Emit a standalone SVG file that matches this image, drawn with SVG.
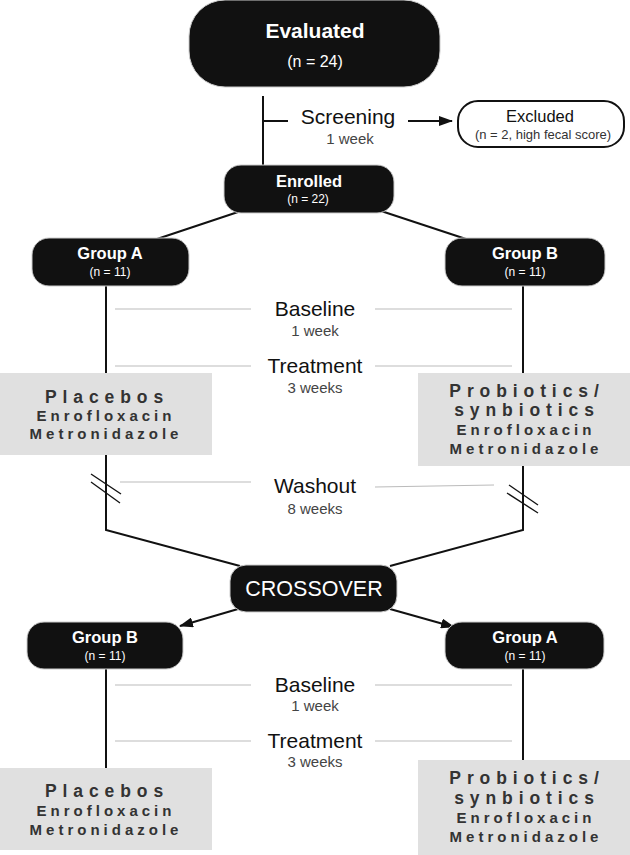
<svg xmlns="http://www.w3.org/2000/svg" width="630" height="855" viewBox="0 0 630 855">
<style>
.dark{fill:#111;stroke:#ccc;stroke-width:1}
.t{font-family:"Liberation Sans",Arial,sans-serif;text-anchor:middle}
.wb{fill:#fff;font-weight:bold}
.w{fill:#fff}
.ln{stroke:#111;stroke-width:2;fill:none}
.gl{stroke:#bbb;stroke-width:1;fill:none}
.gray{fill:#e0e0e0}
.drug{fill:#333;font-weight:bold}
.big{font-size:17.5px;letter-spacing:5.9px}
.sm{font-size:15px;letter-spacing:4px}
.lab{fill:#111;font-size:21px}
.sub{fill:#444;font-size:15px}
.gn{font-size:16.5px}
.nn{font-size:12px}
</style>
<defs>
<marker id="ah" markerWidth="14" markerHeight="10" refX="13" refY="5" orient="auto" markerUnits="userSpaceOnUse">
<path d="M0,0 L14,5 L0,10 Z" fill="#111"/>
</marker>
</defs>
<g id="connectors">
<line class="ln" x1="263" y1="96" x2="263" y2="166"/>
<line class="ln" x1="263" y1="121" x2="288" y2="121"/>
<line class="ln" x1="408" y1="121" x2="452" y2="121" marker-end="url(#ah)"/>
<line class="ln" x1="250" y1="208" x2="157" y2="239"/>
<line class="ln" x1="372" y1="208" x2="466" y2="239"/>
<line class="ln" x1="106" y1="285" x2="106" y2="373"/>
<line class="ln" x1="523" y1="285" x2="523" y2="373"/>
<polyline class="ln" points="106,455 106,530 240,566"/>
<polyline class="ln" points="523,466 523,530 390,566"/>
<line class="ln" x1="238" y1="609" x2="180" y2="626" marker-end="url(#ah)"/>
<line class="ln" x1="390" y1="609" x2="454" y2="627" marker-end="url(#ah)"/>
<line class="ln" x1="106" y1="668" x2="106" y2="768"/>
<line class="ln" x1="523" y1="668" x2="523" y2="760"/>
<g stroke="#111" stroke-width="1.3">
<line x1="91" y1="474" x2="121" y2="494"/>
<line x1="91" y1="482" x2="120" y2="503"/>
<line x1="509" y1="485" x2="538" y2="505"/>
<line x1="507" y1="493" x2="538" y2="513"/>
</g>
<line class="gl" x1="115" y1="309" x2="251" y2="309"/>
<line class="gl" x1="375" y1="309" x2="512" y2="309"/>
<line class="gl" x1="115" y1="366" x2="251" y2="366"/>
<line class="gl" x1="375" y1="366" x2="512" y2="366"/>
<line class="gl" x1="120" y1="482" x2="251" y2="482"/>
<line class="gl" x1="375" y1="487" x2="494" y2="485"/>
<line class="gl" x1="115" y1="685" x2="251" y2="685"/>
<line class="gl" x1="375" y1="685" x2="512" y2="685"/>
<line class="gl" x1="115" y1="741" x2="251" y2="741"/>
<line class="gl" x1="375" y1="741" x2="512" y2="741"/>
</g>
<g id="evaluated">
<rect class="dark" x="189" y="0" width="251" height="87" rx="36"/>
<text class="t wb" x="315" y="38" font-size="21">Evaluated</text>
<text class="t w" x="315" y="67" font-size="16">(n = 24)</text>
</g>
<g id="screening">
<text class="t lab" x="348" y="124">Screening</text>
<text class="t sub" x="350" y="144">1 week</text>
</g>
<g id="excluded">
<rect x="458" y="101" width="166" height="46" rx="20" fill="#fff" stroke="#111" stroke-width="2"/>
<text class="t" x="540" y="122" font-size="16.5" fill="#111">Excluded</text>
<text class="t" x="543" y="139" font-size="13" fill="#333">(n = 2, high fecal score)</text>
</g>
<g id="enrolled">
<rect class="dark" x="224" y="165" width="170" height="48" rx="17"/>
<text class="t wb gn" x="309" y="187">Enrolled</text>
<text class="t w nn" x="308" y="203">(n = 22)</text>
</g>
<g id="groupA1">
<rect class="dark" x="32" y="238" width="157" height="48" rx="17"/>
<text class="t wb gn" x="110" y="259">Group A</text>
<text class="t w nn" x="110" y="276">(n = 11)</text>
</g>
<g id="groupB1">
<rect class="dark" x="445" y="238" width="160" height="48" rx="17"/>
<text class="t wb gn" x="525" y="259">Group B</text>
<text class="t w nn" x="525" y="276">(n = 11)</text>
</g>
<g id="baseline1">
<text class="t lab" x="315" y="316">Baseline</text>
<text class="t sub" x="315" y="336">1 week</text>
</g>
<g id="treatment1">
<text class="t lab" x="315" y="373">Treatment</text>
<text class="t sub" x="315" y="393">3 weeks</text>
</g>
<g id="placebos1">
<rect class="gray" x="0" y="373" width="212" height="82"/>
<text class="t drug big" x="107" y="403">Placebos</text>
<text class="t drug sm" x="106" y="421">Enrofloxacin</text>
<text class="t drug sm" x="106" y="439">Metronidazole</text>
</g>
<g id="probiotics1">
<rect class="gray" x="418" y="373" width="212" height="93"/>
<text class="t drug big" x="527" y="397">Probiotics/</text>
<text class="t drug big" x="527" y="416">synbiotics</text>
<text class="t drug sm" x="526" y="435">Enrofloxacin</text>
<text class="t drug sm" x="526" y="454">Metronidazole</text>
</g>
<g id="washout">
<text class="t lab" x="315" y="493">Washout</text>
<text class="t sub" x="315" y="514">8 weeks</text>
</g>
<g id="crossover">
<rect class="dark" x="230" y="565" width="167" height="47" rx="16"/>
<text class="t w" x="314" y="596" font-size="21.5">CROSSOVER</text>
</g>
<g id="groupB2">
<rect class="dark" x="27" y="622" width="156" height="47" rx="17"/>
<text class="t wb gn" x="105" y="643">Group B</text>
<text class="t w nn" x="105" y="660">(n = 11)</text>
</g>
<g id="groupA2">
<rect class="dark" x="445" y="622" width="159" height="47" rx="17"/>
<text class="t wb gn" x="525" y="643">Group A</text>
<text class="t w nn" x="525" y="660">(n = 11)</text>
</g>
<g id="baseline2">
<text class="t lab" x="315" y="692">Baseline</text>
<text class="t sub" x="315" y="711">1 week</text>
</g>
<g id="treatment2">
<text class="t lab" x="315" y="748">Treatment</text>
<text class="t sub" x="315" y="767">3 weeks</text>
</g>
<g id="placebos2">
<rect class="gray" x="0" y="768" width="212" height="82"/>
<text class="t drug big" x="107" y="797">Placebos</text>
<text class="t drug sm" x="106" y="816">Enrofloxacin</text>
<text class="t drug sm" x="106" y="835">Metronidazole</text>
</g>
<g id="probiotics2">
<rect class="gray" x="418" y="760" width="212" height="95"/>
<text class="t drug big" x="527" y="784">Probiotics/</text>
<text class="t drug big" x="527" y="804">synbiotics</text>
<text class="t drug sm" x="526" y="823">Enrofloxacin</text>
<text class="t drug sm" x="526" y="842">Metronidazole</text>
</g>
</svg>
